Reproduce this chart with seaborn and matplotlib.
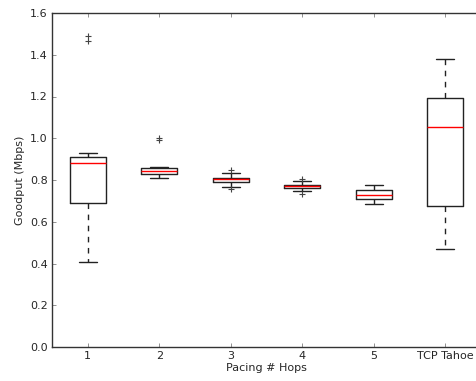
import matplotlib
matplotlib.use("Agg")
import matplotlib.pyplot as plt
import seaborn as sns

# Box statistics
labels = ["1", "2", "3", "4", "5", "TCP Tahoe"]
whisker_low = [0.409, 0.810, 0.765, 0.749, 0.685, 0.469]
q1 = [0.688, 0.830, 0.789, 0.760, 0.707, 0.675]
median = [0.880, 0.845, 0.803, 0.770, 0.728, 1.054]
q3 = [0.910, 0.858, 0.808, 0.776, 0.751, 1.191]
whisker_high = [0.929, 0.862, 0.832, 0.795, 0.776, 1.382]
fliers = [[1.467, 1.491], [0.993, 1.000], [0.848, 0.755], [0.803, 0.733], [], []]

sns.set_style("ticks")
plt.rcParams["font.family"] = ["DejaVu Sans"]
plt.rcParams["font.size"] = 8

fig = plt.figure(figsize=(4.77, 3.81), dpi=100)
# axes runs slightly past the right edge of the figure, as in the reference
ax = fig.add_axes([52 / 477, 34 / 381, 429 / 477, 334 / 381])

stats = []
for i in range(len(labels)):
    stats.append({
        "label": labels[i],
        "whislo": whisker_low[i],
        "q1": q1[i],
        "med": median[i],
        "q3": q3[i],
        "whishi": whisker_high[i],
        "fliers": fliers[i],
    })

ax.bxp(
    stats,
    widths=0.5,
    boxprops=dict(color="#222222", linewidth=1),
    medianprops=dict(color="red", linewidth=1),
    whiskerprops=dict(color="#222222", linewidth=1, linestyle="--", dashes=(4, 4)),
    capprops=dict(color="#222222", linewidth=1),
    flierprops=dict(marker="+", markeredgecolor="#444444", markeredgewidth=0.8,
                    markersize=5, linestyle="none"),
)

ax.set_xlim(0.5, 6.5)
ax.set_ylim(0, 1.6)
ax.set_yticks([0.0, 0.2, 0.4, 0.6, 0.8, 1.0, 1.2, 1.4, 1.6])
ax.set_xlabel("Pacing # Hops", fontsize=8, labelpad=1)
ax.set_ylabel("Goodput (Mbps)", fontsize=8)
ax.tick_params(direction="in", length=3, width=0.5, labelsize=8, pad=3,
               top=True, right=True, color="#666666")
for side in ["left", "bottom", "top", "right"]:
    ax.spines[side].set_color("#333333")
    ax.spines[side].set_linewidth(1)

fig.savefig("out.png", dpi=100)
